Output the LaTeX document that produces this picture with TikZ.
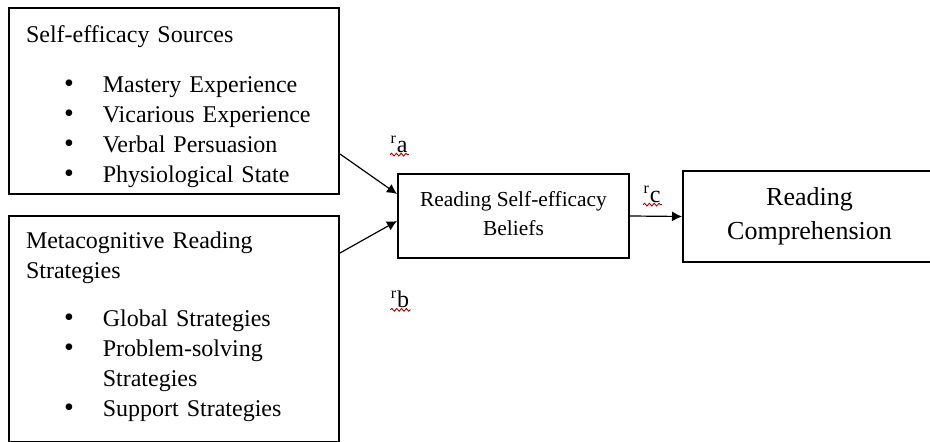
\documentclass[tikz,border=0pt]{standalone}
\usepackage{fontspec}
\setmainfont{Liberation Serif}
\usetikzlibrary{arrows.meta,decorations.pathmorphing}

\newcommand{\bul}{{\fontsize{14}{15}\selectfont\textbullet}}

\begin{document}
\begin{tikzpicture}[x=0.5pt,y=-0.5pt,
    box/.style={draw,line width=1pt,inner ysep=0pt},
    listbox/.style={box,anchor=north west,inner xsep=8.5pt,align=left,
      text width=148pt,minimum width=165pt,font=\fontsize{12}{15}\selectfont},
    link/.style={-{Latex[length=5pt,width=5pt]},line width=0.6pt},
    pathlabel/.style={inner sep=1pt,font=\fontsize{12}{14}\selectfont},
    squiggle/.style={draw=red!70!black,line width=0.45pt,decorate,
      decoration={snake,amplitude=0.7pt,segment length=2.4pt}}]
  % Frame
  \useasboundingbox (0,0) rectangle (930,442);
  \clip (0,0) rectangle (930,442);

  % Boxes
  \node[listbox,minimum height=93pt] (sources) at (8,7) {\rule{0pt}{16pt}Self-efficacy Sources\\[10pt]
    \begin{tabular}[t]{@{\hspace{19pt}}l@{\hspace{14.5pt}}l@{}}
      \bul & Mastery Experience\\
      \bul & Vicarious Experience\\
      \bul & Verbal Persuasion\\
      \bul & Physiological State
    \end{tabular}};
  \node[listbox,minimum height=113pt] (strategies) at (8,215) {Metacognitive Reading\\
    Strategies\\[9pt]
    \begin{tabular}[t]{@{\hspace{19pt}}l@{\hspace{14.5pt}}l@{}}
      \bul & Global Strategies\\
      \bul & Problem-solving\\
           & Strategies\\
      \bul & Support Strategies
    \end{tabular}};
  \node[box,anchor=north west,minimum width=115.5pt,minimum height=42pt,align=center,
    font=\fontsize{10.7}{14.5}\selectfont] (beliefs) at (397,173)
    {Reading Self-efficacy\\Beliefs\rule[-3pt]{0pt}{1pt}};
  \node[box,anchor=north west,minimum width=126.5pt,minimum height=45.5pt,align=center,
    font=\fontsize{13}{17}\selectfont] (comprehension) at (682,170)
    {Reading\\Comprehension};

  % Arrows
  \draw[link] ([yshift=-26.5pt]sources.east) -- ([yshift=11pt]beliefs.west);
  \draw[link] ([yshift=38pt]strategies.east) -- ([yshift=-2.5pt]beliefs.west);
  \draw[link] (beliefs.east) -- (comprehension.west);

  % Labels
  \node[pathlabel] (ra) at (399,144) {\textsuperscript{r}a};
  \node[pathlabel] (rb) at (400,299) {\textsuperscript{r}b};
  \node[pathlabel] (rc) at (652,194) {\textsuperscript{r}c};
  \foreach \lab in {ra,rb,rc}
    \draw[squiggle] ([xshift=1pt]\lab.south west) -- ([xshift=-0.5pt]\lab.south east);

\end{tikzpicture}
\end{document}
